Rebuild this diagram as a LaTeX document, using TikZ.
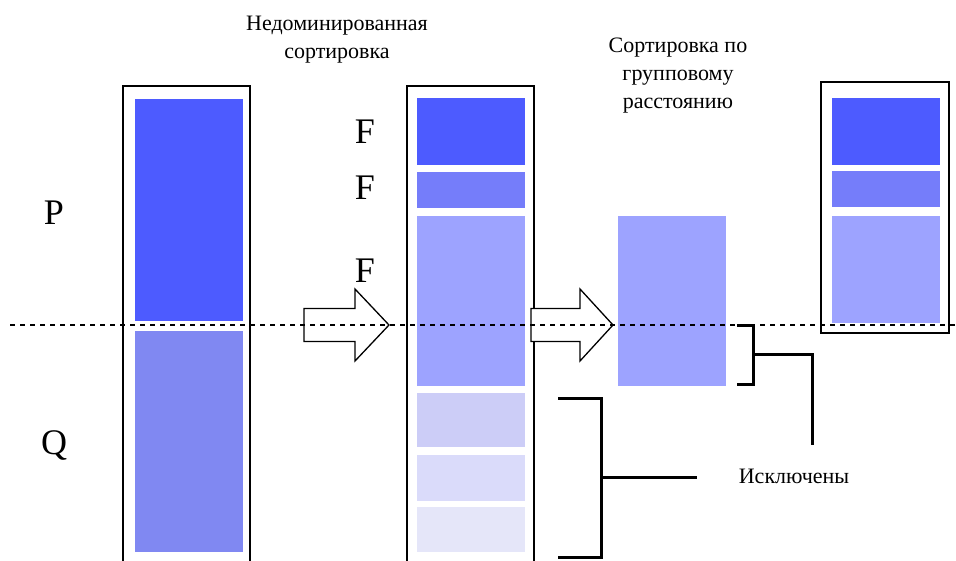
\documentclass[tikz,border=0pt]{standalone}
\usepackage{fontspec}
\setmainfont{Liberation Serif}
\definecolor{rankA}{RGB}{77,91,255}
\definecolor{rankB}{RGB}{117,125,250}
\definecolor{rankC}{RGB}{157,163,255}
\definecolor{rankQ}{RGB}{128,136,242}
\definecolor{dropA}{RGB}{204,205,247}
\definecolor{dropB}{RGB}{218,219,250}
\definecolor{dropC}{RGB}{229,230,249}
\begin{document}
\begin{tikzpicture}[x=1pt,y=-1pt,
  blk/.style={draw=none, inner sep=0pt, outer sep=0pt, anchor=north west, minimum width=108pt},
  framebox/.style={draw=black, line width=1.4pt, inner sep=0pt, outer sep=0pt, anchor=north west, minimum width=127pt},
  fatarrow/.style={draw=black, line width=1.3pt, fill=white, line join=miter},
  bracketline/.style={line width=3pt, line join=miter},
  biglbl/.style={font=\fontsize{36}{40}\selectfont, anchor=base, inner sep=0pt},
  captxt/.style={font=\fontsize{22}{28}\selectfont, align=center, anchor=north, inner sep=0pt}]
\useasboundingbox (0,0) rectangle (956,560);
\clip (0,0) rectangle (956,560);

% population P+Q
\node[framebox, minimum height=500pt] (colA) at (123,86) {};
\node[blk, fill=rankA, minimum height=222pt] (P) at (135,99) {};
\node[blk, fill=rankQ, minimum height=221pt] (Q) at (135,331) {};
\node[biglbl] (lP) at (54,224) {P};
\node[biglbl] (lQ) at (54,454) {Q};

% fronts after non-dominated sorting
\node[framebox, minimum height=500pt] (colB) at (407,86) {};
\node[blk, fill=rankA, minimum height=67pt] (F1) at (417,98) {};
\node[blk, fill=rankB, minimum height=36pt] (F2) at (417,172) {};
\node[blk, fill=rankC, minimum height=170pt] (F3) at (417,216) {};
\node[blk, fill=dropA, minimum height=54pt] (E1) at (417,393) {};
\node[blk, fill=dropB, minimum height=46pt] (E2) at (417,455) {};
\node[blk, fill=dropC, minimum height=45pt] (E3) at (417,507) {};
\node[biglbl] (lF1) at (365,143) {F};
\node[biglbl] (lF2) at (365,199) {F};
\node[biglbl] (lF3) at (365,282) {F};

% last front, sorted by crowding distance
\node[blk, fill=rankC, minimum height=170pt] (F3s) at (618,216) {};

% new population
\node[framebox, minimum height=251pt, minimum width=128pt] (colC) at (821,82) {};
\node[blk, fill=rankA, minimum height=67pt] (N1) at (832,98) {};
\node[blk, fill=rankB, minimum height=36pt] (N2) at (832,171) {};
\node[blk, fill=rankC, minimum height=107pt] (N3) at (832,216) {};

% captions
\node[captxt] (t1) at (337,16) {Недоминированная\\сортировка};
\node[captxt] (t2) at (678,38) {Сортировка по\\групповому\\расстоянию};
\node[font=\fontsize{22}{28}\selectfont, inner sep=0pt] (ex) at (794,476) {Исключены};

% block arrows
\begin{scope}[shift={(304,325)}]
  \draw[fatarrow] (0,-16.5) -- (51,-16.5) -- (51,-36) -- (85,0) -- (51,36) -- (51,16.5) -- (0,16.5) -- cycle;
\end{scope}
\begin{scope}[shift={(531,325)}]
  \draw[fatarrow] (0,-16.5) -- (49,-16.5) -- (49,-36) -- (82,0) -- (49,36) -- (49,16.5) -- (0,16.5) -- cycle;
\end{scope}

% brackets marking the discarded parts
\coordinate (sb) at (812,445);
\draw[bracketline] (737,325) -- (753,325) -- (753,384) -- (737,384);
\draw[bracketline] (753,354) -- (812,354) -- (sb);
\coordinate (lb) at (697,477);
\draw[bracketline] (558,398) -- (601,398) -- (601,557) -- (558,557);
\draw[bracketline] (601,477) -- (lb);

% population size limit
\draw[line width=1.3pt, dash pattern=on 5pt off 5pt] (10,325) -- (956,325);
\end{tikzpicture}
\end{document}
